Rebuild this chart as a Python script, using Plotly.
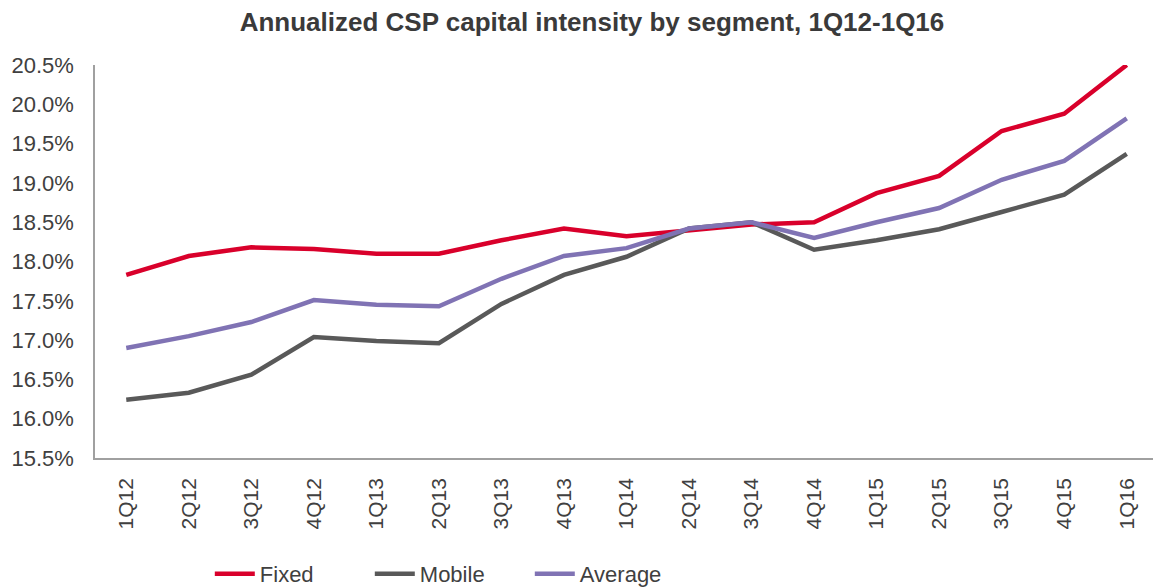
import plotly.graph_objects as go

quarters = ["1Q12", "2Q12", "3Q12", "4Q12", "1Q13", "2Q13", "3Q13", "4Q13", "1Q14",
            "2Q14", "3Q14", "4Q14", "1Q15", "2Q15", "3Q15", "4Q15", "1Q16"]
fixed = [17.83, 18.07, 18.18, 18.16, 18.10, 18.10, 18.27, 18.42, 18.32,
         18.40, 18.47, 18.50, 18.87, 19.09, 19.66, 19.88, 20.50]
mobile = [16.24, 16.33, 16.56, 17.04, 16.99, 16.96, 17.46, 17.83, 18.06,
          18.42, 18.50, 18.15, 18.27, 18.41, 18.63, 18.85, 19.37]
average = [16.90, 17.05, 17.23, 17.51, 17.45, 17.43, 17.78, 18.07, 18.17,
           18.42, 18.50, 18.30, 18.50, 18.68, 19.04, 19.28, 19.82]
y_ticks = [15.5, 16.0, 16.5, 17.0, 17.5, 18.0, 18.5, 19.0, 19.5, 20.0, 20.5]

series = [("Fixed", fixed, "#D9002B"), ("Mobile", mobile, "#595959"), ("Average", average, "#8073B4")]

fig = go.Figure()
for name, vals, color in series:
    fig.add_trace(go.Scatter(x=quarters, y=vals, name=name, mode="lines",
                             line=dict(color=color, width=4.5)))

font_family = "Liberation Sans, Arial, sans-serif"
fig.update_layout(
    width=1161, height=587,
    paper_bgcolor="white", plot_bgcolor="white",
    margin=dict(l=87, r=11, t=57, b=137, autoexpand=False),
    title=dict(text="<b>Annualized CSP capital intensity by segment, 1Q12-1Q16</b>",
               x=0.503, xanchor="center", y=1 - 14 / 587, yanchor="middle",
               font=dict(family=font_family, size=26, color="#3A3A3A")),
    font=dict(family=font_family, color="#404040"),
    showlegend=True,
    legend=dict(orientation="h", x=0.108, xanchor="left", y=-0.295, yanchor="middle",
                font=dict(family=font_family, size=22, color="#404040"),
                itemwidth=40, entrywidth=105, entrywidthmode="pixels",
                bgcolor="rgba(0,0,0,0)"),
)
fig.update_xaxes(type="category", range=[-0.5, 16.5], showgrid=False, zeroline=False,
                 showline=True, linecolor="#A0A0A0", linewidth=1.5,
                 tickangle=-90, ticks="", ticklabelstandoff=10,
                 tickfont=dict(family=font_family, size=21, color="#404040"))
fig.update_yaxes(range=[15.5, 20.5], tickvals=y_ticks,
                 ticktext=[f"{v:.1f}%" for v in y_ticks],
                 showgrid=False, zeroline=False, showline=True, linecolor="#A0A0A0",
                 linewidth=1.5, ticks="", ticklabelstandoff=15,
                 tickfont=dict(family=font_family, size=22, color="#404040"))

fig.write_html("out.html")
